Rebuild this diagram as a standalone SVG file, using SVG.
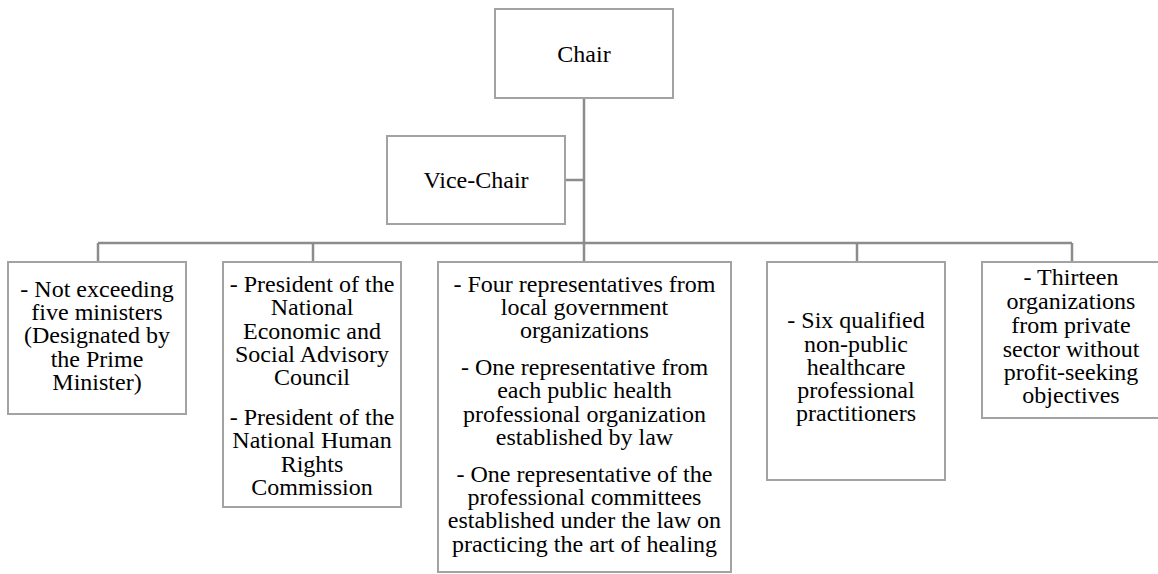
<svg xmlns="http://www.w3.org/2000/svg" width="1158" height="574" viewBox="0 0 1158 574">
<rect width="1158" height="574" fill="#fff"/>
<g id="connectors" fill="none" stroke="#8c8c8c" stroke-width="2.5">
<path d="M584 98V262M565 180H584M98 243H1072M98 243V262M313 243V262M857 243V262M1072 243V262"/>
</g>
<g id="chair">
<rect x="495" y="9" width="178" height="89" fill="#fff" stroke="#a3a3a3" stroke-width="2"/>
<text x="584" y="62" font-family="Times New Roman" font-size="24" text-anchor="middle">Chair</text>
</g>
<g id="vice-chair">
<rect x="387" y="136" width="178" height="88" fill="#fff" stroke="#a3a3a3" stroke-width="2"/>
<text x="476" y="188" font-family="Times New Roman" font-size="24" text-anchor="middle">Vice-Chair</text>
</g>
<g id="ministers" font-family="Times New Roman" font-size="24" text-anchor="middle">
<rect x="8" y="262" width="178" height="152" fill="#fff" stroke="#a3a3a3" stroke-width="2"/>
<text x="97" y="297" font-family="Times New Roman">- Not exceeding</text>
<text x="97" y="320" font-family="Times New Roman">five ministers</text>
<text x="97" y="343" font-family="Times New Roman">(Designated by</text>
<text x="97" y="367" font-family="Times New Roman">the Prime</text>
<text x="97" y="390" font-family="Times New Roman">Minister)</text>
</g>
<g id="presidents" font-family="Times New Roman" font-size="24" text-anchor="middle">
<rect x="223" y="262" width="178" height="245" fill="#fff" stroke="#a3a3a3" stroke-width="2"/>
<text x="312" y="292" font-family="Times New Roman">- President of the</text>
<text x="312" y="315" font-family="Times New Roman">National</text>
<text x="312" y="339" font-family="Times New Roman">Economic and</text>
<text x="312" y="362" font-family="Times New Roman">Social Advisory</text>
<text x="312" y="385" font-family="Times New Roman">Council</text>
<text x="312" y="425" font-family="Times New Roman">- President of the</text>
<text x="312" y="448" font-family="Times New Roman">National Human</text>
<text x="312" y="472" font-family="Times New Roman">Rights</text>
<text x="312" y="495" font-family="Times New Roman">Commission</text>
</g>
<g id="representatives" font-family="Times New Roman" font-size="24" text-anchor="middle">
<rect x="438" y="262" width="293" height="310" fill="#fff" stroke="#a3a3a3" stroke-width="2"/>
<text x="584.5" y="292" font-family="Times New Roman">- Four representatives from</text>
<text x="584.5" y="315" font-family="Times New Roman">local government</text>
<text x="584.5" y="338" font-family="Times New Roman">organizations</text>
<text x="584.5" y="375" font-family="Times New Roman">- One representative from</text>
<text x="584.5" y="398" font-family="Times New Roman">each public health</text>
<text x="584.5" y="422" font-family="Times New Roman">professional organization</text>
<text x="584.5" y="445" font-family="Times New Roman">established by law</text>
<text x="584.5" y="482" font-family="Times New Roman">- One representative of the</text>
<text x="584.5" y="505" font-family="Times New Roman">professional committees</text>
<text x="584.5" y="528" font-family="Times New Roman">established under the law on</text>
<text x="584.5" y="552" font-family="Times New Roman">practicing the art of healing</text>
</g>
<g id="practitioners" font-family="Times New Roman" font-size="24" text-anchor="middle">
<rect x="767" y="262" width="178" height="218" fill="#fff" stroke="#a3a3a3" stroke-width="2"/>
<text x="856" y="328" font-family="Times New Roman">- Six qualified</text>
<text x="856" y="352" font-family="Times New Roman">non-public</text>
<text x="856" y="375" font-family="Times New Roman">healthcare</text>
<text x="856" y="398" font-family="Times New Roman">professional</text>
<text x="856" y="421" font-family="Times New Roman">practitioners</text>
</g>
<g id="organizations" font-family="Times New Roman" font-size="24" text-anchor="middle">
<rect x="982" y="262" width="178" height="156" fill="#fff" stroke="#a3a3a3" stroke-width="2"/>
<text x="1071" y="285" font-family="Times New Roman">- Thirteen</text>
<text x="1071" y="309" font-family="Times New Roman">organizations</text>
<text x="1071" y="333" font-family="Times New Roman">from private</text>
<text x="1071" y="357" font-family="Times New Roman">sector without</text>
<text x="1071" y="380" font-family="Times New Roman">profit-seeking</text>
<text x="1071" y="403" font-family="Times New Roman">objectives</text>
</g>
</svg>
